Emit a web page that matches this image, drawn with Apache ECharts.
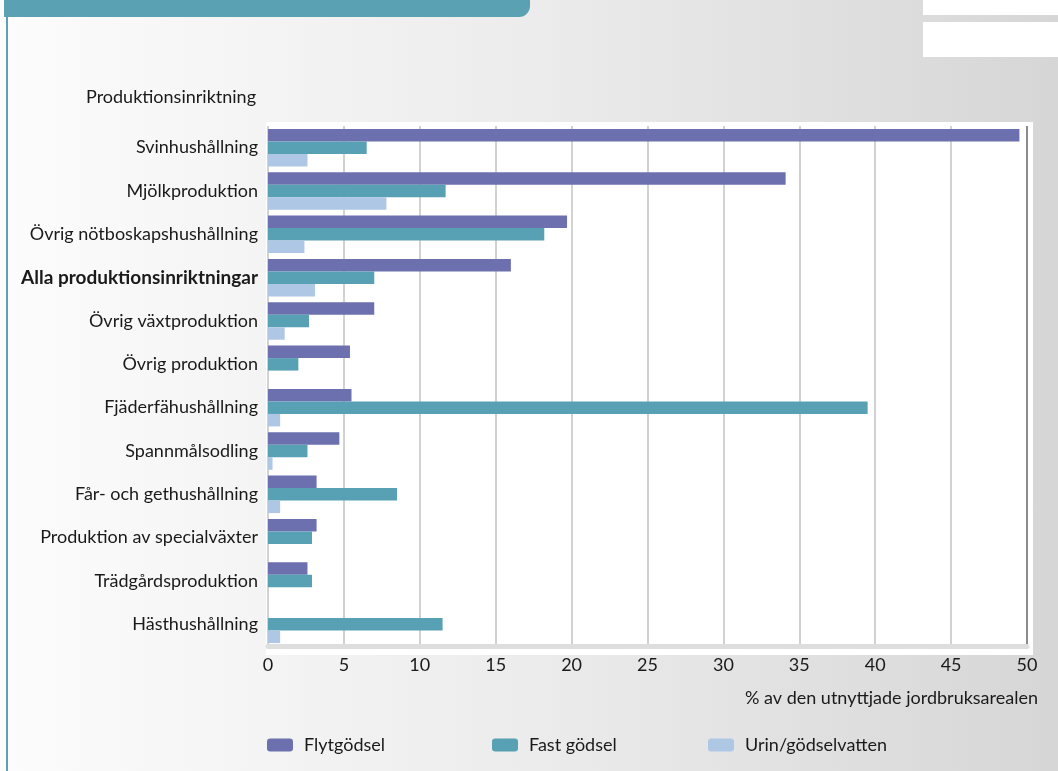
<!DOCTYPE html>
<html>
<head>
<meta charset="utf-8">
<script src="https://cdn.jsdelivr.net/npm/echarts@6/dist/echarts.min.js"></script>
<style>
  html, body { margin: 0; padding: 0; }
  body {
    width: 1058px; height: 771px; overflow: hidden;
    background: linear-gradient(to right, #fcfcfc 0%, #ececec 50%, #d6d6d6 100%);
  }
  #chart { width: 1058px; height: 771px; }
</style>
</head>
<body>
<div id="chart"></div>
<script>
// Production types, top to bottom
const categories = [
  'Svinhushållning',
  'Mjölkproduktion',
  'Övrig nötboskapshushållning',
  'Alla produktionsinriktningar',
  'Övrig växtproduktion',
  'Övrig produktion',
  'Fjäderfähushållning',
  'Spannmålsodling',
  'Får- och gethushållning',
  'Produktion av specialväxter',
  'Trädgårdsproduktion',
  'Hästhushållning'
];
const totalCategory = 'Alla produktionsinriktningar';

// Share of utilised agricultural area (%), by manure type
const flytgodsel = [49.5, 34.1, 19.7, 16.0, 7.0, 5.4, 5.5, 4.7, 3.2, 3.2, 2.6, null];
const fastGodsel = [6.5, 11.7, 18.2, 7.0, 2.7, 2.0, 39.5, 2.6, 8.5, 2.9, 2.9, 11.5];
const urin       = [2.6, 7.8, 2.4, 3.1, 1.1, null, 0.8, 0.3, 0.8, null, null, 0.8];

const seriesNames = ['Flytgödsel', 'Fast gödsel', 'Urin/gödselvatten'];
const xTicks = [0, 5, 10, 15, 20, 25, 30, 35, 40, 45, 50];

const colors = ['#6d70ae', '#58a0b3', '#aec7e5'];
const font = 'Lato, "Open Sans", sans-serif';
const teal = '#5aa1b4';

const chart = echarts.init(document.getElementById('chart'), null, { renderer: 'canvas' });

// grid line colours: the right edge line is darker
const gridColors = xTicks.map((t, i) => i === xTicks.length - 1 ? '#8c8c8c' : '#d2d2d2');

function legendFor(idx, left) {
  return {
    data: [seriesNames[idx]],
    left: left,
    top: 731,
    icon: 'roundRect',
    itemWidth: 26,
    itemHeight: 13,
    textStyle: { fontFamily: font, fontSize: 18, color: '#1a1a1a', padding: [0, 0, 0, 6] },
    selectedMode: false
  };
}

const option = {
  backgroundColor: 'transparent',
  animation: false,
  textStyle: { fontFamily: font },
  color: colors,
  grid: { left: 268, right: 31, top: 126, bottom: 125, containLabel: false },
  legend: [legendFor(0, 262), legendFor(1, 487), legendFor(2, 703)],
  xAxis: {
    type: 'value',
    min: 0,
    max: 50,
    interval: 5,
    axisLine: { show: true, lineStyle: { color: '#dedede', width: 5 } },
    axisTick: { show: false },
    axisLabel: {
      fontFamily: font, fontSize: 18, color: '#1a1a1a', margin: 10,
      formatter: v => String(v)
    },
    splitLine: { show: true, lineStyle: { color: gridColors, width: 2 } }
  },
  yAxis: {
    type: 'category',
    inverse: true,
    data: categories.map(c => c === totalCategory
      ? { value: c, textStyle: { fontWeight: 'bold', fontSize: 19 } }
      : c),
    axisLine: { show: false },
    axisTick: { show: false },
    axisLabel: { fontFamily: font, fontSize: 18, color: '#1a1a1a', margin: 10 }
  },
  series: [
    { name: seriesNames[0], type: 'bar', data: flytgodsel, barWidth: 12.5, barGap: '0%' },
    { name: seriesNames[1], type: 'bar', data: fastGodsel, barWidth: 12.5, barGap: '0%' },
    { name: seriesNames[2], type: 'bar', data: urin, barWidth: 12.5, barGap: '0%' }
  ],
  graphic: [
    // white panel behind the plot
    { type: 'rect', z: -10, shape: { x: 266, y: 122, width: 767, height: 533 }, style: { fill: '#ffffff' } },
    // header band
    { type: 'rect', z: -5, shape: { x: 4, y: 0, width: 526, height: 17, r: [0, 0, 11, 0] }, style: { fill: teal } },
    // left edge rule
    { type: 'rect', z: -5, shape: { x: 6, y: 17, width: 2, height: 754 }, style: { fill: teal } },
    // white boxes at top right
    { type: 'rect', z: -5, shape: { x: 923, y: 0, width: 135, height: 15 }, style: { fill: '#ffffff' } },
    { type: 'rect', z: -5, shape: { x: 923, y: 22, width: 135, height: 35 }, style: { fill: '#ffffff' } },
    // axis captions
    { type: 'text', x: 86, y: 97, style: { text: 'Produktionsinriktning', font: '18px ' + font, fill: '#1a1a1a', textAlign: 'left', textVerticalAlign: 'middle' } },
    { type: 'text', x: 1038, y: 698, style: { text: '% av den utnyttjade jordbruksarealen', font: '18px ' + font, fill: '#1a1a1a', textAlign: 'right', textVerticalAlign: 'middle' } }
  ]
};

chart.setOption(option);
</script>
</body>
</html>
